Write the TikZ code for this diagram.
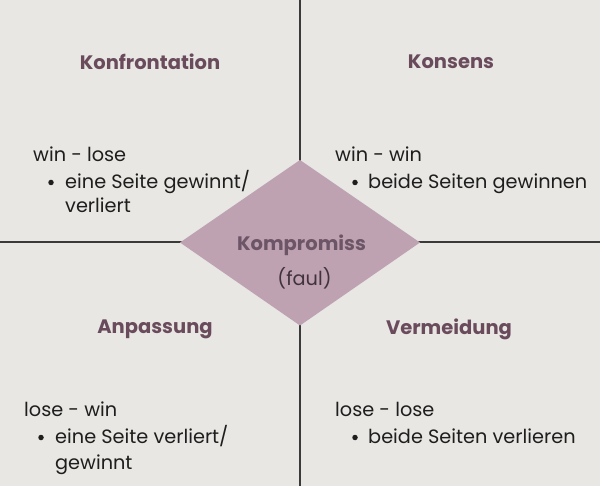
\documentclass[tikz,border=0pt]{standalone}
\usepackage{fontspec}
\setmainfont{Poppins}
\definecolor{bg}{HTML}{E8E7E3}
\definecolor{lines}{HTML}{3A3A3A}
\definecolor{dia}{HTML}{BFA2B2}
\definecolor{ttl}{HTML}{6A4B5C}
\definecolor{ktl}{HTML}{6C5566}
\definecolor{body}{HTML}{1E1E1E}
\tikzset{
  title/.style={font=\fontsize{19.5}{23}\selectfont\bfseries, text=ttl, inner sep=0pt, anchor=center},
  bodytxt/.style={font=\fontsize{19.3}{23}\selectfont, text=body, inner sep=0pt, anchor=mid west},
  bul/.style={circle, fill=body, inner sep=0pt, minimum size=5.5pt},
  divider/.style={draw=lines, line width=2pt}
}
\begin{document}
\begin{tikzpicture}[x=1pt,y=-1pt]
\fill[bg] (0,0) rectangle (600,486);
\useasboundingbox (0,0) rectangle (600,486);
\draw[divider] (300,0) -- (300,486);
\draw[divider] (0,242) -- (600,242);
\fill[dia] (300,160) -- (420,242.5) -- (300,325.5) -- (180,242.5) -- cycle;

\node[title] (konf) at (150,62) {Konfrontation};
\node[title] (kons) at (451,62) {Konsens};
\node[title] (anp) at (155,329) {Anpassung};
\node[title] (verm) at (449,329) {Vermeidung};
\node[title, text=ktl] (komp) at (301.5,245) {Kompromiss};
\node[bodytxt, anchor=center, text=ktl!60!black] (faul) at (304.5,278) {(faul)};

\node[bodytxt] (wl) at (33,159) {win - lose};
\node[bul] (wlb) at (51,182.5) {};
\node[bodytxt] (wl1) at (65,186) {eine Seite gewinnt/};
\node[bodytxt] (wl2) at (65,210) {verliert};

\node[bodytxt] (ww) at (335,159) {win - win};
\node[bul] (wwb) at (355,182.5) {};
\node[bodytxt] (ww1) at (368,186) {beide Seiten gewinnen};

\node[bodytxt] (lw) at (24,414) {lose - win};
\node[bul] (lwb) at (41,437.5) {};
\node[bodytxt] (lw1) at (55,441) {eine Seite verliert/};
\node[bodytxt] (lw2) at (55,467) {gewinnt};

\node[bodytxt] (ll) at (335,414) {lose - lose};
\node[bul] (llb) at (355,437.5) {};
\node[bodytxt] (ll1) at (368,441) {beide Seiten verlieren};
\end{tikzpicture}
\end{document}
